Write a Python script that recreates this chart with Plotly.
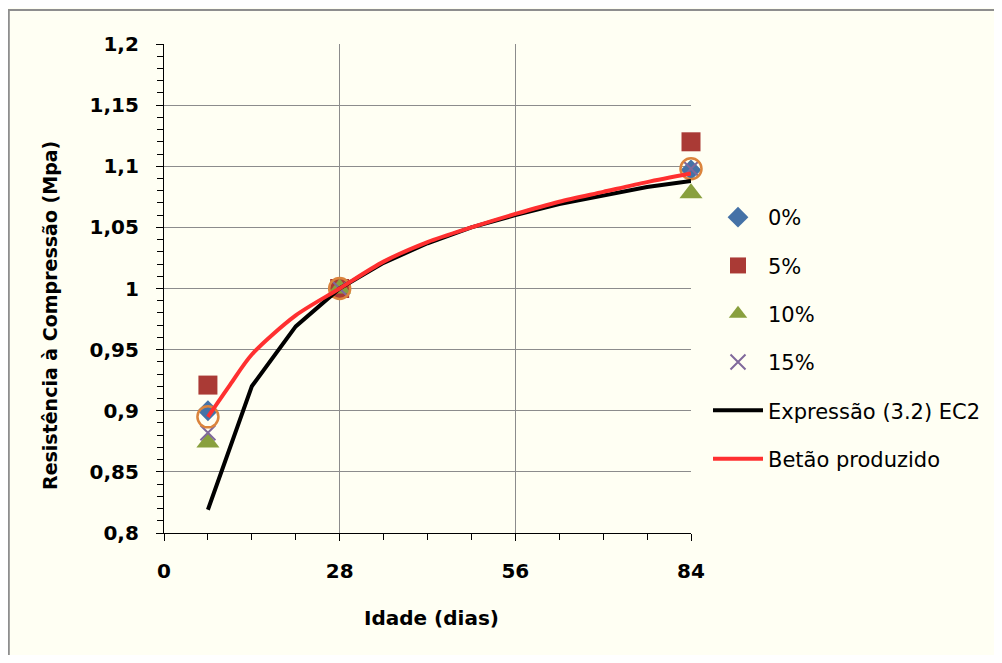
import plotly.graph_objects as go

# ---- data ----
days_pts = [7, 28, 84]
s0 = [0.900, 1.000, 1.097]
s5 = [0.921, 1.000, 1.120]
s10 = [0.874, 1.000, 1.078]
s15 = [0.882, 1.000, 1.098]
s_circ = [0.895, 1.000, 1.098]

ec2_days = [7, 14, 21, 28, 35, 42, 49, 56, 63, 70, 77, 84]
ec2_vals = [0.819, 0.920, 0.969, 1.000, 1.021, 1.037, 1.050, 1.060, 1.069, 1.076, 1.083, 1.088]

bet_days = [7, 10.5, 14, 21, 28, 35, 42, 49, 56, 63, 70, 77, 84]
bet_vals = [0.895, 0.921, 0.946, 0.978, 1.000, 1.022, 1.038, 1.050, 1.061, 1.071, 1.079, 1.087, 1.094]

x_ticks = [0, 28, 56, 84]
x_ticktext = ["0", "28", "56", "84"]
y_ticks = [0.8, 0.85, 0.9, 0.95, 1.0, 1.05, 1.1, 1.15, 1.2]
y_ticktext = ["0,8", "0,85", "0,9", "0,95", "1", "1,05", "1,1", "1,15", "1,2"]

names = ["0%", "5%", "10%", "15%", "Expressão (3.2) EC2", "Betão produzido"]
x_title = "Idade (dias)"
y_title = "Resistência à Compressão (Mpa)"

# ---- layout constants (page pixels; the page body adds an 8px offset) ----
OFF = 8
W, H = 1002 - 2 * OFF, 663 - 2 * OFF
PL, PR, PT, PB = 164, 691, 44, 533          # plot area in page pixels
ML, MT = PL - OFF, PT - OFF
MR, MB = W - (PR - OFF), H - (PB - OFF)
PW, PH = PR - PL, PB - PT
BG = "#FFFFF3"
FONT = "DejaVu Sans"


def px_x(p):
    return (p - PL) / PW


def px_y(p):
    return (PB - p) / PH


fig = go.Figure()

fig.add_trace(go.Scatter(x=days_pts, y=s0, mode="markers", name=names[0], cliponaxis=False,
                         marker=dict(symbol="diamond", size=16, color="#4572A7"), legendgroup="a"))
fig.add_trace(go.Scatter(x=days_pts, y=s5, mode="markers", name=names[1], cliponaxis=False,
                         marker=dict(symbol="square", size=19, color="#AA3A35"), legendgroup="b"))
fig.add_trace(go.Scatter(x=days_pts, y=s10, mode="markers", name=names[2], cliponaxis=False,
                         marker=dict(symbol="triangle-up", size=20, color="#89A03E"), legendgroup="c"))
fig.add_trace(go.Scatter(x=days_pts, y=s15, mode="markers", name=names[3], cliponaxis=False,
                         marker=dict(symbol="x-thin", size=15, color="#80699B",
                                     line=dict(color="#80699B", width=2)), legendgroup="d"))
fig.add_trace(go.Scatter(x=days_pts, y=s_circ, mode="markers", showlegend=False, cliponaxis=False,
                         marker=dict(symbol="circle-open", size=21, color="#DB843D",
                                     line=dict(color="#DB843D", width=2.5))))
fig.add_trace(go.Scatter(x=ec2_days, y=ec2_vals, mode="lines", name=names[4], cliponaxis=False,
                         line=dict(color="#000000", width=4), legendgroup="e"))
fig.add_trace(go.Scatter(x=bet_days, y=bet_vals, mode="lines", name=names[5], cliponaxis=False,
                         line=dict(color="#FF3030", width=4, shape="spline", smoothing=0.8),
                         legendgroup="f"))

axis_common = dict(
    showline=True, linecolor="#000000", linewidth=1.2,
    showgrid=True, gridcolor="#8C8C8C", gridwidth=1,
    zeroline=False, ticks="outside", ticklen=7, tickcolor="#000000", tickwidth=1.2,
    tickfont=dict(family=FONT, size=20, color="#000000", weight="bold"),
    ticklabelstandoff=13,
)

fig.update_layout(
    width=W, height=H,
    margin=dict(l=ML, r=MR, t=MT, b=MB, autoexpand=False),
    paper_bgcolor=BG,
    plot_bgcolor=BG,
    separators=", ",
    font=dict(family=FONT, size=17, color="#000000"),
    xaxis=dict(axis_common, range=[0, 84], tickvals=x_ticks, ticktext=x_ticktext,
               minor=dict(dtick=7, tick0=0, ticks="outside", ticklen=6, tickcolor="#000000", showgrid=False)),
    yaxis=dict(axis_common, range=[0.8, 1.2], tickvals=y_ticks, ticktext=y_ticktext,
               minor=dict(dtick=0.01, tick0=0.8, ticks="outside", ticklen=6, tickcolor="#000000", showgrid=False)),
    legend=dict(x=px_x(708), y=px_y(197), xanchor="left", yanchor="top",
                bgcolor="rgba(0,0,0,0)", font=dict(family=FONT, size=21),
                tracegroupgap=18, itemwidth=50),
    showlegend=True,
    annotations=[
        dict(text=x_title, xref="paper", yref="paper", x=px_x(431), y=px_y(618),
             xanchor="center", yanchor="middle", showarrow=False,
             font=dict(family=FONT, size=20, weight="bold")),
        dict(text=y_title, xref="paper", yref="paper", x=px_x(50), y=px_y(316),
             xanchor="center", yanchor="middle", showarrow=False, textangle=-90,
             font=dict(family=FONT, size=19, weight="bold")),
    ],
    shapes=[dict(type="rect", xref="paper", yref="paper", layer="below",
                 x0=px_x(8.8), x1=px_x(1040), y0=px_y(700), y1=px_y(10),
                 fillcolor=BG, line=dict(color="#8E8E8E", width=2))],
)

fig.write_html("out.html")
